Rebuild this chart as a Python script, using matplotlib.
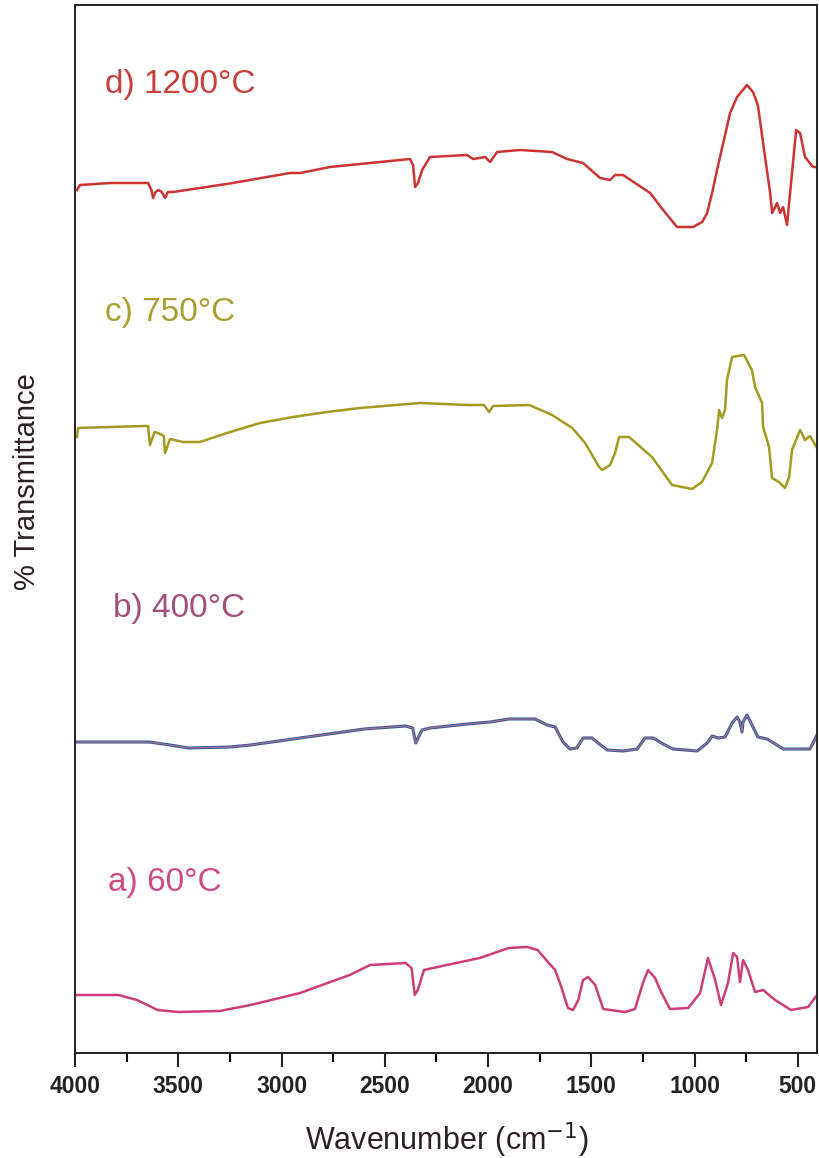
import matplotlib
matplotlib.use("Agg")
import matplotlib.pyplot as plt
from matplotlib.ticker import MultipleLocator

plt.rcParams['font.family'] = ['Liberation Sans', 'DejaVu Sans']

# ---- data (wavenumber cm^-1, stacked % transmittance, arbitrary offset) ----
wn_d = [3990, 3976, 3830, 3646, 3630, 3622, 3610, 3595, 3580, 3564, 3550, 3525, 3395, 3235,
        3070, 2959, 2910, 2765, 2571, 2378, 2363, 2353, 2339, 2319, 2281, 2102, 2072, 2014,
        1990, 1956, 1845, 1690, 1617, 1540, 1457, 1409, 1385, 1346, 1215, 1152, 1085, 1007,
        963, 939, 915, 891, 861, 828, 794, 746, 717, 697, 692, 668, 634, 624, 600, 586, 571,
        552, 542, 528, 508, 489, 465, 426, 407]
t_d = [86.3, 86.8, 87.0, 87.0, 86.3, 85.5, 86.1, 86.3, 86.1, 85.5, 86.1, 86.1, 86.5, 87.0,
       87.6, 88.0, 88.0, 88.6, 89.0, 89.4, 88.8, 86.6, 87.0, 88.3, 89.6, 89.8, 89.4, 89.6,
       89.1, 90.1, 90.3, 90.1, 89.4, 89.0, 87.5, 87.3, 87.8, 87.8, 86.0, 84.3, 82.6, 82.6,
       83.1, 84.0, 86.0, 88.3, 91.0, 94.0, 95.6, 96.8, 96.1, 95.0, 94.6, 91.0, 86.0, 84.0,
       85.0, 84.0, 84.6, 82.8, 85.0, 88.0, 92.3, 92.0, 89.6, 88.6, 88.6]

wn_c = [3990, 3985, 3830, 3660, 3646, 3637, 3615, 3598, 3570, 3564, 3540, 3477, 3395, 3264,
        3104, 2944, 2780, 2620, 2330, 2100, 2020, 1995, 1975, 1800, 1690, 1592, 1530, 1462,
        1447, 1409, 1385, 1365, 1317, 1206, 1109, 1012, 964, 915, 891, 881, 867, 852, 843,
        818, 760, 722, 707, 673, 668, 639, 625, 591, 562, 542, 528, 489, 465, 441, 407]
t_c = [61.6, 62.5, 62.6, 62.7, 62.7, 60.8, 62.1, 62.0, 61.7, 60.0, 61.4, 61.1, 61.1, 62.0,
       63.0, 63.6, 64.1, 64.5, 65.0, 64.8, 64.8, 64.1, 64.7, 64.8, 63.8, 62.5, 61.0, 58.6,
       58.3, 58.8, 60.0, 61.6, 61.6, 59.6, 56.8, 56.4, 57.1, 59.0, 62.3, 64.3, 63.5, 64.3,
       67.3, 69.6, 69.8, 68.3, 66.6, 65.0, 62.6, 60.6, 57.5, 57.1, 56.5, 57.6, 60.3, 62.3,
       61.3, 61.7, 60.5]

wn_b = [3990, 3640, 3540, 3450, 3250, 3150, 2910, 2600, 2400, 2365, 2350, 2320, 2280, 2100,
        1990, 1900, 1772, 1714, 1675, 1637, 1603, 1570, 1540, 1496, 1467, 1423, 1346, 1278,
        1240, 1200, 1152, 1104, 987, 939, 915, 886, 852, 818, 794, 780, 770, 765, 746, 717,
        693, 649, 601, 571, 441, 407]
t_b = [31.1, 31.1, 30.8, 30.5, 30.6, 30.8, 31.5, 32.4, 32.7, 32.5, 31.0, 32.3, 32.5, 32.9,
       33.1, 33.4, 33.4, 32.8, 32.6, 31.1, 30.4, 30.5, 31.5, 31.5, 31.0, 30.3, 30.2, 30.4,
       31.5, 31.5, 30.9, 30.4, 30.2, 31.0, 31.7, 31.5, 31.6, 33.0, 33.6, 33.1, 32.1, 33.1,
       33.8, 32.6, 31.6, 31.4, 30.8, 30.4, 30.4, 31.8]

wn_a = [3990, 3790, 3700, 3600, 3500, 3300, 3150, 2910, 2670, 2571, 2400, 2370, 2355, 2340,
        2310, 2200, 2040, 1900, 1810, 1760, 1710, 1675, 1645, 1613, 1588, 1563, 1540, 1515,
        1481, 1442, 1336, 1288, 1250, 1225, 1191, 1162, 1119, 1031, 973, 935, 900, 872, 838,
        813, 794, 780, 765, 741, 707, 668, 610, 533, 450, 407]
t_a = [5.8, 5.8, 5.3, 4.3, 4.1, 4.2, 4.8, 6.0, 7.8, 8.8, 9.0, 8.5, 5.8, 6.3,
       8.3, 8.8, 9.5, 10.5, 10.6, 10.3, 9.1, 8.3, 6.6, 4.5, 4.3, 5.3, 7.3, 7.6,
       6.8, 4.4, 4.1, 4.4, 7.0, 8.3, 7.5, 6.1, 4.4, 4.5, 6.0, 9.5, 7.3, 4.8, 7.0,
       10.0, 9.6, 7.1, 9.3, 8.3, 6.1, 6.3, 5.3, 4.3, 4.6, 5.8]

labels = ["d) 1200°C", "c) 750°C", "b) 400°C", "a) 60°C"]
xticks = [4000, 3500, 3000, 2500, 2000, 1500, 1000, 500]

# ---- figure ----
W, H = 819, 1158
fig = plt.figure(figsize=(W / 100, H / 100), dpi=100)
ax = fig.add_axes([75 / W, (H - 1053) / H, 742 / W, 1048 / H])

ax.plot(wn_d, t_d, color="#cc3333", lw=1.8)
ax.plot(wn_c, t_c, color="#a39b1f", lw=1.8)
ax.plot(wn_b, t_b, color="#2f5a96", lw=2.2)
ax.plot(wn_b, t_b, color="#b07090", lw=0.8)
ax.plot(wn_a, t_a, color="#cc3d7a", lw=1.8)

ax.set_xlim(4000, 407)
ax.set_ylim(0, 104.8)

txt_kw = dict(transform=fig.transFigure, fontsize=24, va="center", ha="left")
fig.text(105 / W, 1 - 85 / H, labels[0], color="#c8403a", **txt_kw)
fig.text(105 / W, 1 - 313 / H, labels[1], color="#a8a030", **txt_kw)
fig.text(113 / W, 1 - 608 / H, labels[2], color="#a0507a", **txt_kw)
fig.text(108 / W, 1 - 882 / H, labels[3], color="#d04a88", **txt_kw)

ax.set_xticks(xticks)
ax.xaxis.set_minor_locator(MultipleLocator(250))
ax.set_yticks([])
ax.tick_params(axis="x", which="major", direction="out", length=10, width=1.5,
               labelsize=16.5, pad=6, colors="#222222")
ax.tick_params(axis="x", which="minor", direction="out", length=6.5, width=1.5)
for lab in ax.get_xticklabels():
    lab.set_fontweight("bold")
for sp in ax.spines.values():
    sp.set_linewidth(1.4)
    sp.set_color("#222222")

fig.text(447 / W, 1 - 1140 / H, "Wavenumber (cm$^{-1}$)", fontsize=22, ha="center",
         va="center", color="#2a2222")
fig.text(27 / W, 1 - 482 / H, "% Transmittance", fontsize=21, ha="center", va="center",
         rotation=90, color="#2a2222")

fig.savefig("out.png", dpi=100)
